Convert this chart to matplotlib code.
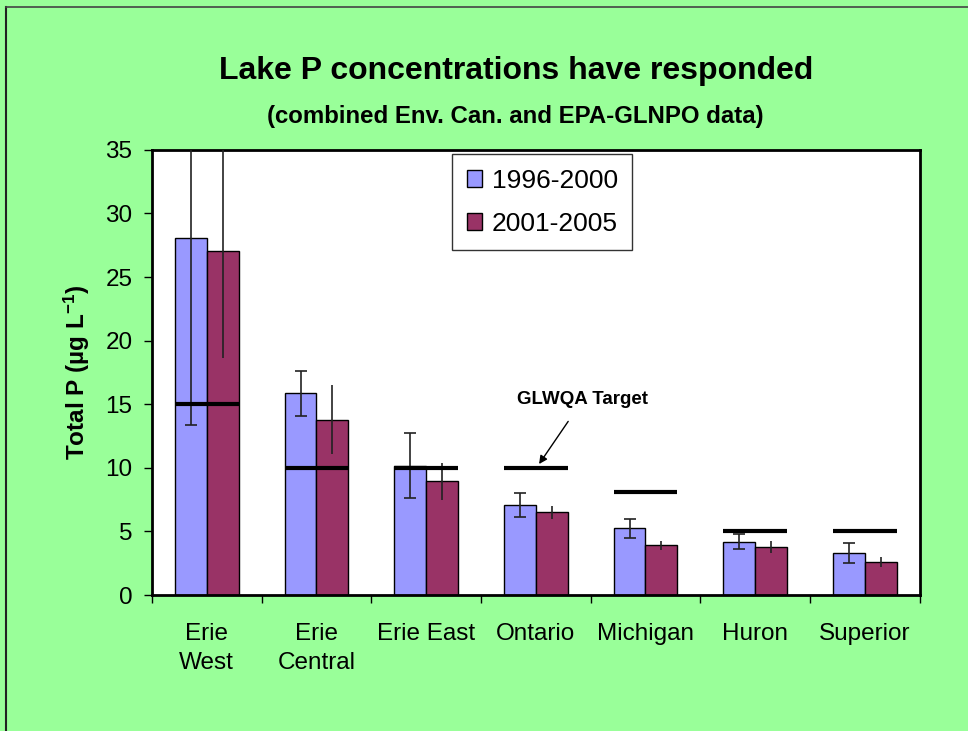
import matplotlib
matplotlib.use("Agg")
import matplotlib.pyplot as plt
from matplotlib.lines import Line2D
import numpy as np

plt.rcParams['font.family'] = ['Liberation Sans', 'DejaVu Sans']
plt.rcParams['mathtext.fontset'] = 'custom'
plt.rcParams['mathtext.bf'] = 'Liberation Sans:bold'
plt.rcParams['mathtext.rm'] = 'Liberation Sans:bold'
plt.rcParams['mathtext.default'] = 'bf'

lakes = ["Erie\nWest", "Erie\nCentral", "Erie East", "Ontario", "Michigan", "Huron", "Superior"]
p_9600 = [28.1, 15.85, 10.15, 7.1, 5.25, 4.2, 3.3]
err_9600 = [14.7, 1.8, 2.55, 0.95, 0.75, 0.62, 0.8]
p_0105 = [27.05, 13.8, 8.95, 6.5, 3.9, 3.8, 2.6]
err_0105 = [8.4, 2.75, 1.45, 0.5, 0.38, 0.48, 0.36]
target = [15, 10, 10, 10, 8.1, 5, 5]

bg = "#99FF99"
blue = "#9999FF"
plum = "#993366"

fig = plt.figure(figsize=(9.68, 7.31), dpi=100, facecolor=bg)
ax = fig.add_axes([0.157, 0.186, 0.793, 0.609])

x = np.arange(len(lakes))
w = 0.29
ax.bar(x - w/2, p_9600, w, color=blue, edgecolor="black", linewidth=1, label="1996-2000", zorder=2)
ax.bar(x + w/2, p_0105, w, color=plum, edgecolor="black", linewidth=1, label="2001-2005", zorder=2)
ax.errorbar(x - w/2, p_9600, yerr=err_9600, fmt="none", ecolor="#222222", elinewidth=1.2, capsize=4, capthick=1.2, zorder=3)
ax.errorbar(x + w/2, p_0105, yerr=err_0105, fmt="none", ecolor="#222222", elinewidth=1.2, capsize=0, zorder=3)
ax.hlines(target, x - w, x + w, colors="black", linewidth=3, zorder=4)

ax.set_xlim(-0.5, len(lakes) - 0.5)
ax.set_ylim(0, 35)
ax.set_yticks(range(0, 36, 5))
ax.set_xticks(x)
ax.set_xticklabels(lakes, fontsize=17.5, linespacing=1.42)
ax.set_xticks(np.arange(-0.5, len(lakes), 1), minor=True)
ax.tick_params(axis="x", which="major", length=0, pad=20)
ax.tick_params(axis="x", which="minor", length=6, width=1, direction="out")
ax.tick_params(axis="y", labelsize=17.5, length=6, width=1, direction="out", pad=8)
for s in ax.spines.values():
    s.set_linewidth(2)

ax.set_ylabel("Total P (µg L$^{-1}$)", fontsize=17.5, fontweight="bold", labelpad=10)

ax.annotate("GLWQA Target", xy=(3.03, 10.3), xytext=(3.43, 15.35),
            fontsize=13.5, fontweight="bold", ha="center", va="center",
            arrowprops=dict(arrowstyle="-|>", color="black", lw=1, mutation_scale=12, shrinkA=9, shrinkB=0))

leg = ax.legend(loc="upper left", bbox_to_anchor=(0.391, 0.99), fontsize=19, frameon=True,
                fancybox=False, edgecolor="black", handlelength=0.6, handleheight=0.6,
                handletextpad=0.35, borderpad=0.55, labelspacing=0.72, borderaxespad=0)
leg.get_frame().set_linewidth(1)

fig.text(0.533, 0.903, "Lake P concentrations have responded", ha="center", va="center",
         fontsize=23, fontweight="bold")
fig.text(0.532, 0.841, "(combined Env. Can. and EPA-GLNPO data)", ha="center", va="center",
         fontsize=17.3, fontweight="bold")

fig.add_artist(Line2D([0.0062, 0.0062], [0, 0.9904], color="#222222", lw=1.5, transform=fig.transFigure))
fig.add_artist(Line2D([0.0062, 1], [0.9904, 0.9904], color="#444444", lw=1.2, transform=fig.transFigure))

fig.savefig("out.png", dpi=100, facecolor=bg)
